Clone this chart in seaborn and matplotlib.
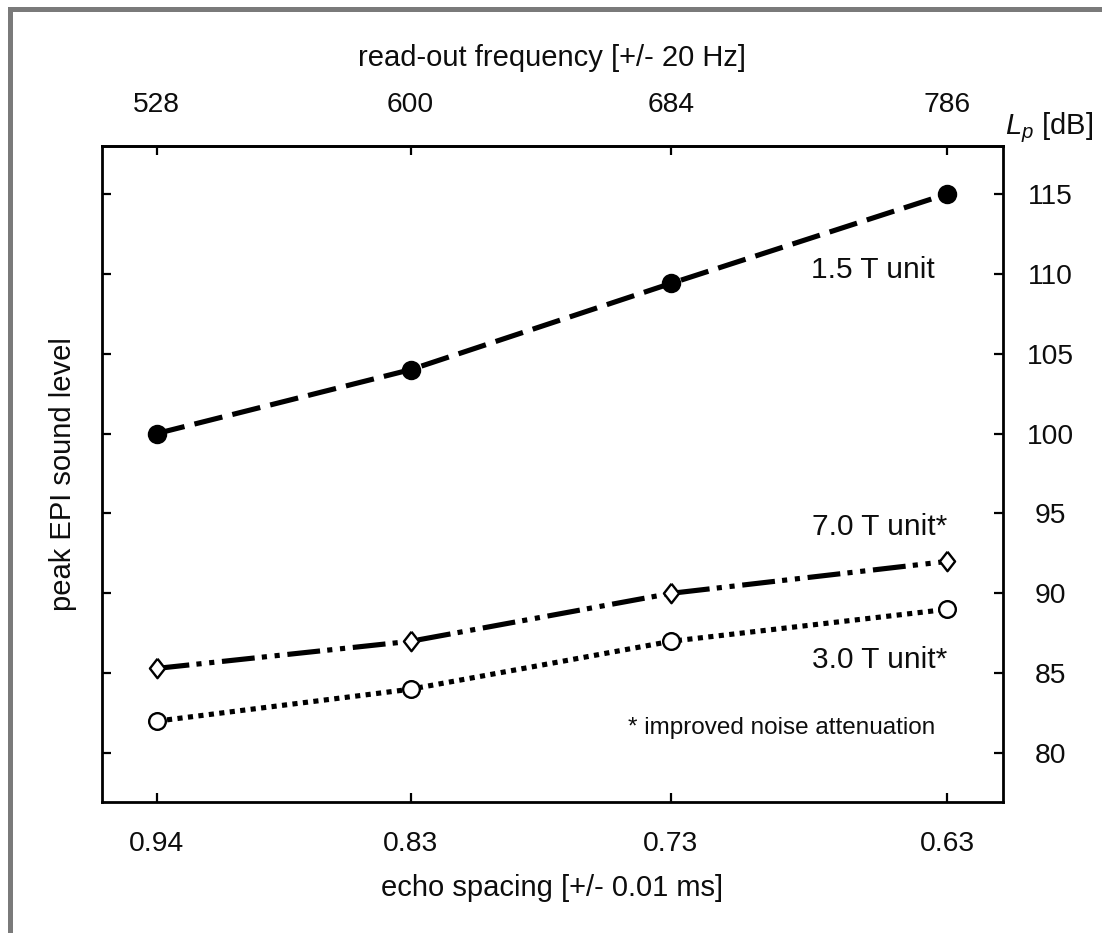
import numpy as np
import pandas as pd
import seaborn as sns
import matplotlib
matplotlib.use("Agg")
import matplotlib.pyplot as plt
from matplotlib.ticker import NullLocator, FixedLocator, FixedFormatter
from matplotlib.patches import Rectangle

# ---- data ----
readout_freq = [528, 600, 684, 786]            # Hz (top axis)
echo_spacing = ["0.94", "0.83", "0.73", "0.63"]  # ms (bottom axis)
lp_15T = [100.0, 104.0, 109.4, 115.0]
lp_70T = [85.3, 87.0, 90.0, 92.0]
lp_30T = [82.0, 84.0, 87.0, 89.0]
y_ticks = [80, 85, 90, 95, 100, 105, 110, 115]

sns.set_theme(style="white")
plt.rcParams["font.family"] = ["Liberation Sans", "DejaVu Sans"]
plt.rcParams["mathtext.fontset"] = "custom"
plt.rcParams["mathtext.rm"] = "Liberation Sans"
plt.rcParams["mathtext.it"] = "Liberation Sans:italic"

TXT = "#0d0d0d"
W, H = 1102, 933
fig = plt.figure(figsize=(W / 100, H / 100), dpi=100)
fig.patch.set_facecolor("white")
ax = fig.add_axes([102 / W, 1 - 802 / H, (1003 - 102) / W, (802 - 146) / H])
ax.set_facecolor("white")

df = pd.DataFrame({"freq": readout_freq, "t15": lp_15T, "t70": lp_70T, "t30": lp_30T})

LW = 3.7
sns.lineplot(data=df, x="freq", y="t15", ax=ax, color="black", lw=LW,
             linestyle=(0, (5.6, 2.0)), marker="o", markersize=12.5,
             markerfacecolor="black", markeredgecolor="black", markeredgewidth=1.5)
diamond = [(0, 1), (0.78, 0), (0, -1), (-0.78, 0), (0, 1)]
sns.lineplot(data=df, x="freq", y="t70", ax=ax, color="black", lw=LW,
             linestyle=(0, (6.4, 1.4, 1.0, 1.5, 1.0, 1.5)), marker=diamond, markersize=14,
             markerfacecolor="white", markeredgecolor="black", markeredgewidth=1.7)
sns.lineplot(data=df, x="freq", y="t30", ax=ax, color="black", lw=LW,
             linestyle=(0, (1.0, 1.05)), marker="o", markersize=12,
             markerfacecolor="white", markeredgecolor="black", markeredgewidth=1.7)

ax.set_xscale("log")
ax.set_xlim(513.7, 808.4)
ax.set_ylim(76.94, 118.0)

ax.xaxis.set_major_locator(FixedLocator(readout_freq))
ax.xaxis.set_major_formatter(FixedFormatter(echo_spacing))
ax.xaxis.set_minor_locator(NullLocator())
ax.yaxis.set_major_locator(FixedLocator(y_ticks))
ax.yaxis.set_minor_locator(NullLocator())

for s in ax.spines.values():
    s.set_visible(True)
    s.set_color("black")
    s.set_linewidth(2.0)

ax.tick_params(axis="x", which="major", direction="in", length=6.5, width=1.6,
               color="black", bottom=True, top=False, labelsize=20.3, pad=21,
               labelcolor=TXT)
ax.tick_params(axis="y", which="major", direction="in", length=6.5, width=1.6,
               color="black", left=True, right=True, labelleft=False, labelright=True,
               labelsize=20.3, pad=34, labelcolor=TXT)
for lab in ax.get_yticklabels():
    lab.set_horizontalalignment("center")

sec = ax.secondary_xaxis("top")
sec.xaxis.set_major_locator(FixedLocator(readout_freq))
sec.xaxis.set_major_formatter(FixedFormatter([str(f) for f in readout_freq]))
sec.xaxis.set_minor_locator(NullLocator())
sec.tick_params(axis="x", which="major", direction="in", length=6.5, width=1.6,
                color="black", labelsize=20.3, pad=20, labelcolor=TXT)
sec.spines["top"].set_linewidth(2.0)

ax.set_xlabel("echo spacing [+/- 0.01 ms]", fontsize=21, color=TXT)
ax.xaxis.set_label_coords(0.5, (802 - 888) / 656)
ax.xaxis.label.set_verticalalignment("center")

ax.set_ylabel("peak EPI sound level", fontsize=21, color=TXT)
ax.yaxis.set_label_position("left")
ax.yaxis.set_label_coords((63 - 102) / 901, 0.5)
ax.yaxis.label.set_verticalalignment("center")

ax.text(0.5, (802 - 58) / 656, "read-out frequency [+/- 20 Hz]", transform=ax.transAxes,
        ha="center", va="center", fontsize=21, color=TXT, clip_on=False)

ax.text((1049 - 102) / 901, (802 - 128) / 656, r"$L_p$ [dB]", transform=ax.transAxes,
        ha="center", va="center", fontsize=21, color=TXT, clip_on=False)

ax.text(0.9245, 0.811, "1.5 T unit", transform=ax.transAxes, ha="right", va="center",
        fontsize=21.5, color=TXT)
ax.text(0.9378, 0.419, "7.0 T unit*", transform=ax.transAxes, ha="right", va="center",
        fontsize=21.5, color=TXT)
ax.text(0.9378, 0.2165, "3.0 T unit*", transform=ax.transAxes, ha="right", va="center",
        fontsize=21.5, color=TXT)
ax.text(0.9245, 0.1128, "* improved noise attenuation", transform=ax.transAxes,
        ha="right", va="center", fontsize=17.5, color=TXT)

ax.grid(False)

# grey outer frame (cropped at right and bottom in the reference)
fig.patches.append(Rectangle((10 / W, -0.5), 2.0, 1.5 - 9 / H, transform=fig.transFigure,
                             fill=False, edgecolor="#7a7a7a", linewidth=3.6))

fig.savefig("out.png", dpi=100, facecolor="white")
